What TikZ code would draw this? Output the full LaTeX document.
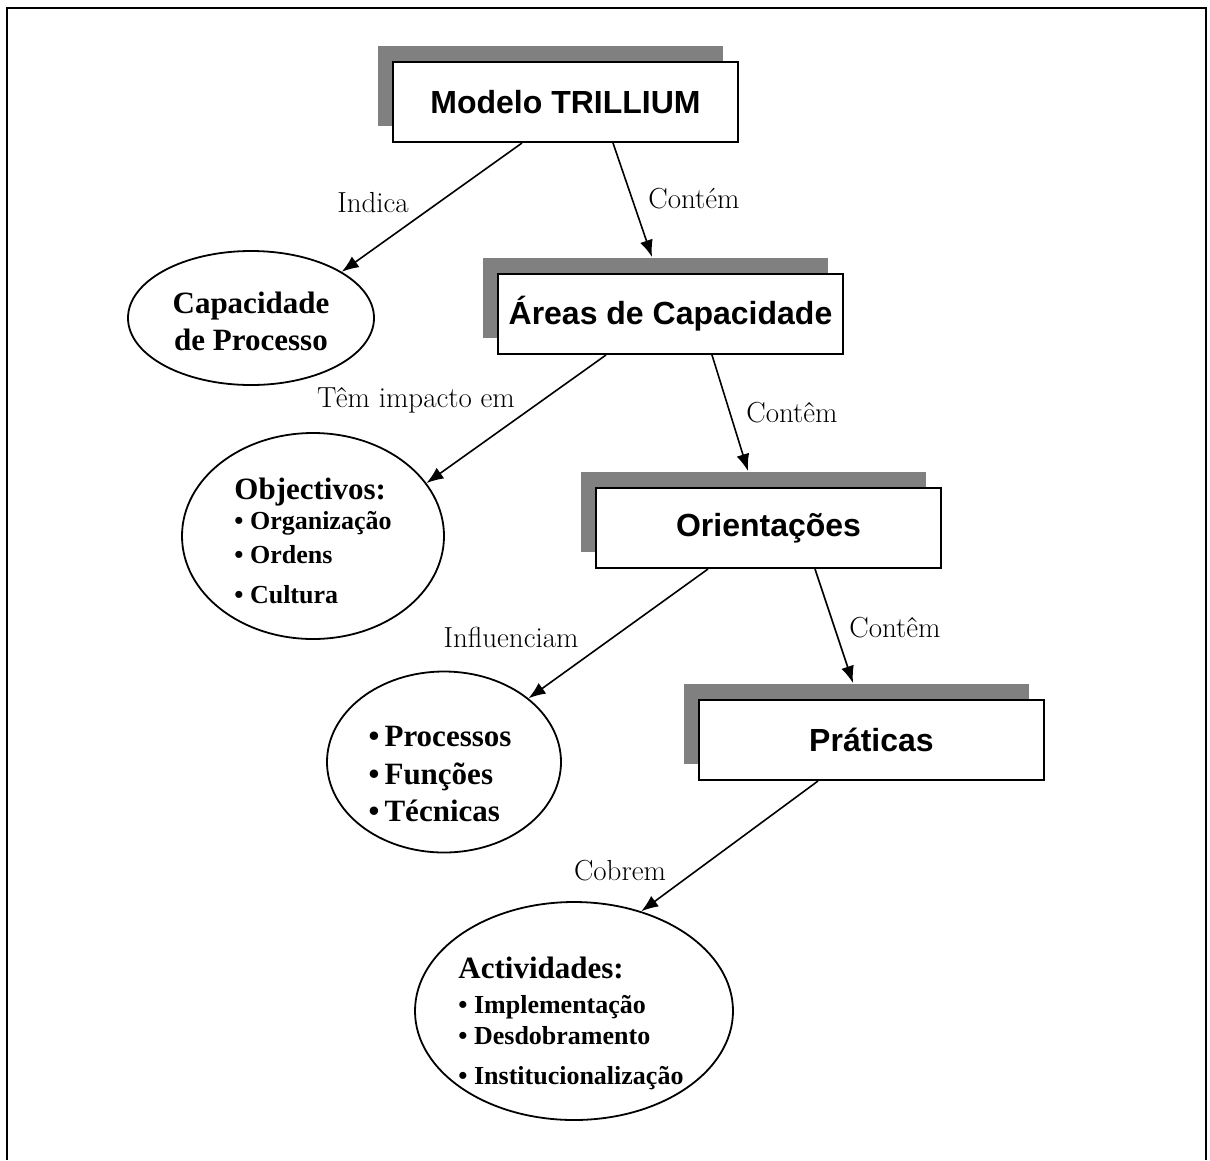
\documentclass[tikz,border=0pt]{standalone}
\usepackage{fontspec}
\newfontfamily\boxfont{Liberation Sans}
\newfontfamily\ellfont{Liberation Serif}
\usetikzlibrary{shapes.geometric,shadows,arrows.meta}
\definecolor{shadowgray}{RGB}{128,128,128}
\begin{document}
\begin{tikzpicture}[x=1pt,y=-1pt,
  conceptbox/.style={draw,line width=2pt,fill=white,minimum width=345pt,minimum height=80pt,
    inner sep=0pt,font=\boxfont\bfseries\fontsize{32}{36}\selectfont,
    general shadow={fill=shadowgray,shadow xshift=-15pt,shadow yshift=16pt}},
  bubble/.style={draw,ellipse,line width=1.8pt,inner sep=0pt},
  bubbletext/.style={inner sep=0pt,align=left,
    font=\ellfont\bfseries\fontsize{26}{33}\selectfont},
  conn/.style={line width=1.6pt,-{Latex[length=17pt,width=13pt]}},
  lbl/.style={font=\fontsize{29}{32}\selectfont,inner sep=0pt}]
\useasboundingbox (0,0) rectangle (1210,1160);
% frame
\draw[line width=2.5pt] (7,1160) -- (7,8) -- (1206,8) -- (1206,1160);

% boxes
\node[conceptbox] (modelo) at (565.5,102) {Modelo TRILLIUM};
\node[conceptbox] (areas) at (670.5,314) {Áreas de Capacidade};
\node[conceptbox] (orient) at (768.5,528) {Orientações};
\node[conceptbox] (praticas) at (871.5,740) {Práticas};

% ellipses
\node[bubble,minimum width=246pt,minimum height=134pt] (capac) at (251,318) {};
\node[bubbletext,align=center,font=\ellfont\bfseries\fontsize{31}{37}\selectfont]
  (capactext) at ([yshift=-3pt]capac.center) {Capacidade\\de Processo};

\node[bubble,minimum width=262pt,minimum height=206pt] (objectivos) at (313,536) {};
\node[bubbletext] (objtext) at ([yshift=-5pt]objectivos.center)
  {{\fontsize{31}{33}\selectfont Objectivos:}\\[-3pt]
   • Organização\\[1pt]
   • Ordens\\[7pt]
   • Cultura};

\node[bubble,minimum width=234pt,minimum height=181pt] (processos) at (444,762) {};
\node[bubbletext,font=\ellfont\bfseries\fontsize{31}{37.5}\selectfont]
  (proctext) at ([xshift=-4pt,yshift=-12pt]processos.center)
  {•\,Processos\\
   •\,Funções\\
   •\,Técnicas};

\node[bubble,minimum width=318pt,minimum height=218pt] (activ) at (574,1011) {};
\node[bubbletext] (activtext) at ([xshift=-3pt,yshift=-12pt]activ.center)
  {{\fontsize{31}{33}\selectfont Actividades:}\\[2pt]
   • Implementação\\[-2pt]
   • Desdobramento\\[7pt]
   • Institucionalização};

% connectors
\draw[conn] ([xshift=-43.5pt]modelo.south) -- (capac.27.6);
\draw[conn] ([xshift=47.5pt]modelo.south) -- ([xshift=-18.5pt,yshift=16pt]areas.north);
\draw[conn] ([xshift=-64.5pt]areas.south) -- (objectivos.25.3);
\draw[conn] ([xshift=41.5pt]areas.south) -- ([xshift=-20.5pt,yshift=16pt]orient.north);
\draw[conn] ([xshift=-60.5pt]orient.south) -- (processos.37.2);
\draw[conn] ([xshift=46.5pt]orient.south) -- ([xshift=-18.5pt,yshift=16pt]praticas.north);
\draw[conn] ([xshift=-53.5pt]praticas.south) -- (activ.56.8);

% connector labels
\node[lbl] (lindica) at (373,203) {Indica};
\node[lbl] (lcontem) at (694,199) {Contém};
\node[lbl] (limpacto) at (416,400) {Têm impacto em};
\node[lbl] (lcontem2) at (792,413) {Contêm};
\node[lbl] (linfl) at (511,637) {Influenciam};
\node[lbl] (lcontem3) at (895,628) {Contêm};
\node[lbl] (lcobrem) at (620,871) {Cobrem};
\end{tikzpicture}
\end{document}
